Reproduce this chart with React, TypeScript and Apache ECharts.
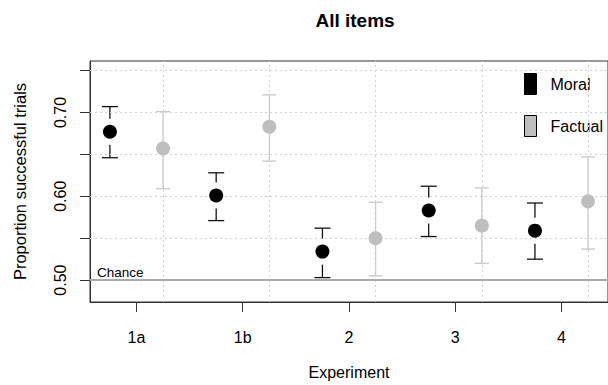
import React, { useEffect, useRef } from "react";
import * as echarts from "echarts";

const categories = ["1a", "1b", "2", "3", "4"];
const moralMean = [0.677, 0.601, 0.534, 0.583, 0.559];
const moralLo = [0.646, 0.571, 0.503, 0.552, 0.525];
const moralHi = [0.707, 0.628, 0.562, 0.612, 0.592];
const factualMean = [0.657, 0.683, 0.55, 0.565, 0.594];
const factualLo = [0.609, 0.642, 0.505, 0.52, 0.537];
const factualHi = [0.701, 0.721, 0.593, 0.61, 0.647];
const yTicks = [0.5, 0.55, 0.6, 0.65, 0.7, 0.75];
const yLabels = [0.5, 0.6, 0.7];
const chance = 0.5;

const FONT = "'Liberation Sans', Arial, sans-serif";

export default function App() {
  const ref = useRef<HTMLDivElement>(null);
  useEffect(() => {
    if (!ref.current) return;
    const chart = echarts.init(ref.current, null, { renderer: "svg" });
    const moralX = categories.map((_, i) => 2 * i + 1);
    const factualX = categories.map((_, i) => 2 * i + 2);
    const catTicks = categories.map((_, i) => 2 * i + 1.5);
    const gridX = factualX;
    const xMin = 0.625;
    const xMax = 10.375;

    const moralData = moralX.map((x, i) => [x, moralMean[i], moralLo[i], moralHi[i]]);
    const factualData = factualX.map((x, i) => [x, factualMean[i], factualLo[i], factualHi[i]]);

    const makeRender = (gap: number, color: string, capHalf: number, width: number) =>
      (params: any, api: any) => {
        const x = api.value(0);
        const pm = api.coord([x, api.value(1)]);
        const pl = api.coord([x, api.value(2)]);
        const ph = api.coord([x, api.value(3)]);
        const style = { stroke: color, lineWidth: width, fill: "none" };
        const children: any[] = [];
        if (gap > 0) {
          children.push({ type: "line", shape: { x1: ph[0], y1: ph[1], x2: pm[0], y2: pm[1] - gap }, style });
          children.push({ type: "line", shape: { x1: pm[0], y1: pm[1] + gap, x2: pl[0], y2: pl[1] }, style });
        } else {
          children.push({ type: "line", shape: { x1: ph[0], y1: ph[1], x2: pl[0], y2: pl[1] }, style });
        }
        children.push({ type: "line", shape: { x1: ph[0] - capHalf, y1: ph[1], x2: ph[0] + capHalf, y2: ph[1] }, style });
        children.push({ type: "line", shape: { x1: pl[0] - capHalf, y1: pl[1], x2: pl[0] + capHalf, y2: pl[1] }, style });
        return { type: "group", children };
      };

    const option: any = {
      animation: false,
      textStyle: { fontFamily: FONT },
      title: {
        text: "All items",
        left: 350,
        top: 6,
        textAlign: "center",
        textStyle: { fontSize: 19, fontWeight: "bold", color: "#000", fontFamily: FONT },
      },
      grid: {
        left: 90,
        top: 61,
        width: 520,
        height: 242,
        show: true,
        borderColor: "#333",
        borderWidth: 1,
        backgroundColor: "transparent",
      },
      legend: {
        orient: "vertical",
        left: 524,
        top: 73,
        padding: 0,
        icon: "rect",
        itemWidth: 12,
        itemHeight: 21,
        itemGap: 20,
        textStyle: { fontSize: 16, color: "#000", fontFamily: FONT, padding: [0, 0, 0, 9] },
        data: [
          { name: "Moral", itemStyle: { color: "#000", borderColor: "#000", borderWidth: 1 } },
          { name: "Factual", itemStyle: { color: "#bebebe", borderColor: "#000", borderWidth: 1 } },
        ],
      },
      xAxis: {
        type: "value",
        min: xMin,
        max: xMax,
        name: "Experiment",
        nameLocation: "middle",
        nameGap: 62,
        nameTextStyle: { fontSize: 16, color: "#000", fontFamily: FONT },
        axisLine: { show: true, lineStyle: { color: "#333" } },
        axisTick: { show: true, length: 10, customValues: catTicks, lineStyle: { color: "#333" } },
        axisLabel: {
          customValues: catTicks,
          margin: 27,
          fontSize: 16,
          color: "#000",
          fontFamily: FONT,
          formatter: (v: number) => categories[Math.round((v - 1.5) / 2)] ?? "",
        },
        splitLine: { show: false },
      },
      yAxis: {
        type: "value",
        min: 0.4739,
        max: 0.7614,
        name: "Proportion successful trials",
        nameLocation: "middle",
        nameGap: 62,
        nameRotate: 90,
        nameTextStyle: { fontSize: 16.5, color: "#000", fontFamily: FONT },
        axisLine: { show: true, lineStyle: { color: "#333" } },
        axisTick: { show: true, length: 10, customValues: yTicks, lineStyle: { color: "#333" } },
        axisLabel: {
          customValues: yLabels,
          rotate: 90,
          margin: 22,
          fontSize: 16,
          color: "#000",
          fontFamily: FONT,
          formatter: (v: number) => v.toFixed(2),
        },
        splitLine: { show: false },
      },
      series: [
        {
          type: "custom",
          name: "moralErr",
          renderItem: makeRender(13, "#111", 8, 1.3),
          data: moralData,
          encode: { x: 0, y: [1, 2, 3] },
          z: 4,
          silent: true,
        },
        {
          type: "custom",
          name: "factualErr",
          renderItem: makeRender(0, "#c8c8c8", 7, 1.3),
          data: factualData,
          encode: { x: 0, y: [1, 2, 3] },
          z: 3,
          silent: true,
        },
        {
          type: "scatter",
          name: "Moral",
          symbolSize: 14,
          itemStyle: { color: "#000", opacity: 1 },
          data: moralX.map((x, i) => [x, moralMean[i]]),
          z: 5,
        },
        {
          type: "scatter",
          name: "Factual",
          symbolSize: 14,
          itemStyle: { color: "#bebebe", opacity: 1 },
          data: factualX.map((x, i) => [x, factualMean[i]]),
          z: 5,
        },
        {
          type: "line",
          name: "grid",
          data: [],
          z: 10,
          markLine: {
            silent: true,
            symbol: "none",
            label: { show: false },
            lineStyle: { color: "#d3d3d3", type: [2, 3], width: 1 },
            data: [
              ...yTicks.map((v) => ({ yAxis: v })),
              ...gridX.map((v) => ({ xAxis: v })),
            ],
          },
        },
        {
          type: "line",
          name: "chance",
          data: [],
          z: 11,
          markLine: {
            silent: true,
            symbol: "none",
            lineStyle: { color: "#aaaaaa", type: "solid", width: 2 },
            label: {
              show: true,
              position: "insideStartTop",
              formatter: "Chance",
              fontSize: 13.5,
              color: "#000",
              fontFamily: FONT,
              distance: [7, 1],
            },
            data: [{ yAxis: chance }],
          },
        },
      ],
    };
    chart.setOption(option);
    return () => chart.dispose();
  }, []);
  return (
    <div
      ref={ref}
      style={{ position: "fixed", left: 0, top: 0, width: 608, height: 385, background: "#fff" }}
    />
  );
}
